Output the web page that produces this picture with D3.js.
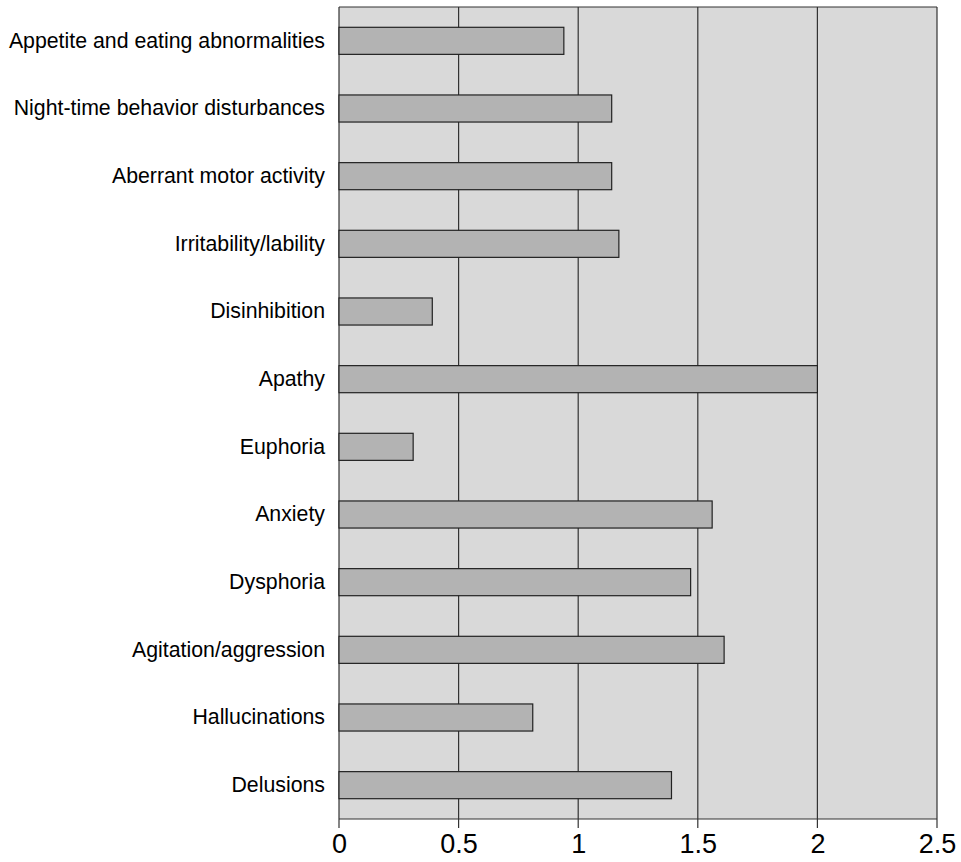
<!DOCTYPE html>
<html><head><meta charset="utf-8">
<script src="https://cdn.jsdelivr.net/npm/d3@7"></script>
<style>body{margin:0;background:#fff}svg{display:block}</style>
</head><body>
<svg id="chart" width="961" height="862"></svg>
<script>
const categories = ["Appetite and eating abnormalities","Night-time behavior disturbances","Aberrant motor activity","Irritability/lability","Disinhibition","Apathy","Euphoria","Anxiety","Dysphoria","Agitation/aggression","Hallucinations","Delusions"];
const values = [0.94,1.14,1.14,1.17,0.39,2.0,0.31,1.56,1.47,1.61,0.81,1.39];
const xTicks = [0,0.5,1,1.5,2,2.5];
const xTickLabels = ["0","0.5","1","1.5","2","2.5"];

const svg = d3.select("#chart");
const m = {left:339, top:7, right:24, bottom:43};
const W = 961 - m.left - m.right, H = 862 - m.top - m.bottom;
const g = svg.append("g").attr("transform",`translate(${m.left},${m.top})`);
const x = d3.scaleLinear().domain([0,2.5]).range([0,W]);
const y = d3.scaleBand().domain(categories).range([0,H]).paddingInner(0.6).paddingOuter(0.3);

g.append("rect").attr("width",W).attr("height",H).attr("fill","#d9d9d9");

g.selectAll(".grid").data(xTicks).join("line")
  .attr("x1",d=>x(d)).attr("x2",d=>x(d)).attr("y1",0).attr("y2",H+9)
  .attr("stroke","#333").attr("stroke-width",1.2);

g.append("line").attr("x1",0).attr("x2",W).attr("y1",0).attr("y2",0).attr("stroke","#333").attr("stroke-width",1.2);
g.append("line").attr("x1",0).attr("x2",W).attr("y1",H).attr("y2",H).attr("stroke","#333").attr("stroke-width",1.2);

g.selectAll(".bar").data(categories).join("rect")
  .attr("x",x(0)).attr("y",d=>y(d))
  .attr("width",(d,i)=>x(values[i])-x(0)).attr("height",y.bandwidth())
  .attr("fill","#b3b3b3").attr("stroke","#222").attr("stroke-width",1.2);

const xAxis = d3.axisBottom(x).tickValues(xTicks).tickFormat((d,i)=>xTickLabels[i]).tickSize(0).tickPadding(15);
const xa = g.append("g").attr("transform",`translate(0,${H})`).call(xAxis);
xa.select(".domain").remove();
xa.selectAll("text").attr("font-family","Liberation Sans, Arial, sans-serif").attr("font-size",27).attr("fill","#000");

const yAxis = d3.axisLeft(y).tickSize(0).tickPadding(14);
const ya = g.append("g").call(yAxis);
ya.select(".domain").remove();
ya.selectAll("text").attr("font-family","Liberation Sans, Arial, sans-serif").attr("font-size",21.3).attr("fill","#000");
</script>
</body></html>
